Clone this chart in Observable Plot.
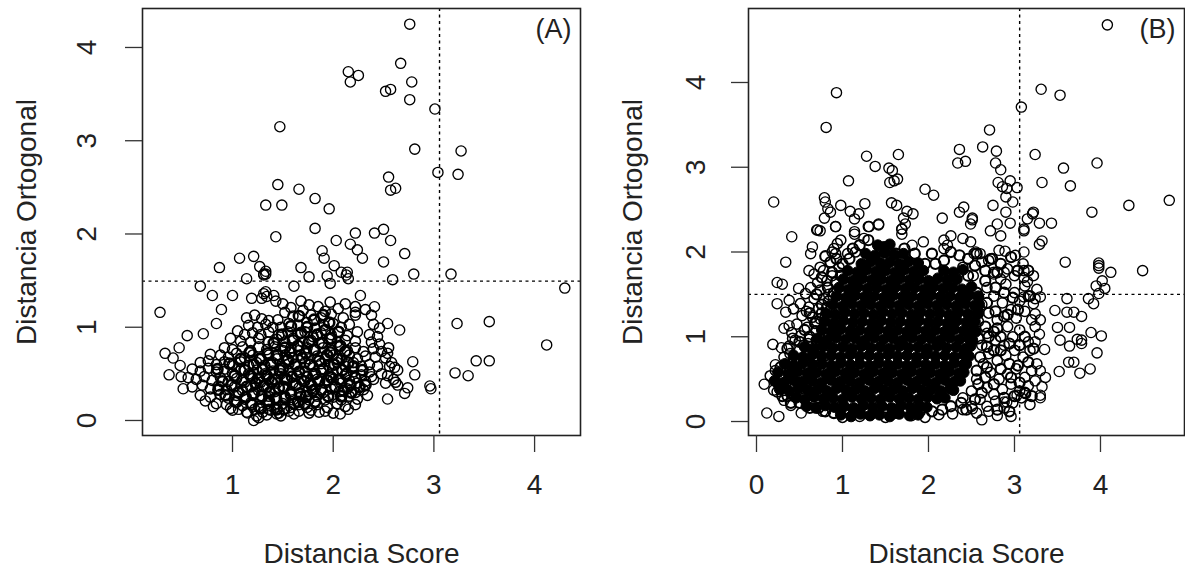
<!DOCTYPE html>
<html><head><meta charset="utf-8">
<script src="https://cdn.jsdelivr.net/npm/d3@7"></script>
<script src="https://cdn.jsdelivr.net/npm/@observablehq/plot@0.6"></script>
<style>
html,body{margin:0;padding:0;background:#fff;overflow:hidden}
#w{position:relative;width:1185px;height:571px}
#w>div,#w>svg{position:absolute;top:0}
svg{font-family:"Liberation Sans",Arial,sans-serif;background:#fff}
</style></head><body><div id="w"></div>
<script>
// Flat lists: score*100, orthogonal*100
const ringsAOuter=[276,425,267,383,215,374,225,370,217,363,278,363,257,355,252,353,276,344,301,334,147,315,281,291,327,289,304,266,324,264,255,261,262,249,257,247,145,253,166,248,182,238,196,227,133,231,149,231,182,206,143,197,222,201,241,201,250,205,203,193,257,193,217,189,224,183,189,182,229,174,191,174,271,179,250,170,107,174,121,176,87,164,127,165,133,160,131,157,131,156,133,157,168,164,176,154,201,166,194,155,208,159,214,159,213,156,259,151,280,157,317,157,114,152,68,144,80,134,100,134,161,144,197,147,215,152,430,142,227,134,119,131,131,136,134,133,129,131,141,134,143,128,133,138,28,116,89,119,241,122,222,116,84,104,254,104,266,97,323,104,355,106,412,81,55,91,71,93,47,78,33,72,41,67,48,59,37,49,49,47,51,34,279,63,281,49,261,57,342,64,355,64,321,51,334,48,296,37,297,34,274,35,271,29,254,23,264,38,238,47,207,7,215,12,161,7,121,0,115,8,81,15,73,21,106,12,144,7];
const ringsACluster=[150,125,158,121,168,128,176,124,185,122,192,117,197,127,205,120,212,125,222,122,232,119,238,113,152,116,160,112,170,118,178,113,188,110,198,114,210,110,222,113,114,110,122,113,129,109,136,107,116,102,125,100,133,103,145,108,140,100,148,100,156,104,165,102,174,105,182,99,191,102,200,104,208,100,216,103,240,103,246,99,105,96,112,92,120,94,128,92,136,95,146,92,155,95,165,92,172,95,180,90,188,94,198,92,206,95,214,91,224,95,236,92,244,90,98,88,108,85,118,84,126,88,136,84,144,87,152,84,160,88,170,84,178,86,186,83,196,87,204,84,212,86,222,85,238,84,246,82,255,78,92,78,100,76,110,79,118,75,126,79,134,76,142,79,150,75,158,78,166,75,174,78,182,75,190,78,198,75,206,79,214,75,222,78,230,74,240,77,248,74,254,72,78,71,88,70,96,68,104,72,112,67,120,70,128,67,136,70,144,66,152,70,160,67,168,70,176,66,184,69,192,66,200,70,208,66,216,70,224,66,232,69,242,68,252,67,258,62,68,62,76,64,84,60,92,63,100,60,108,63,116,59,124,62,132,59,140,62,148,58,156,61,164,58,172,62,180,58,188,61,196,58,204,62,212,58,220,62,228,58,236,60,244,58,256,58,264,54,60,55,68,53,76,56,84,52,92,55,100,51,108,54,116,50,124,54,132,50,140,53,148,50,156,53,164,49,172,53,180,49,188,53,196,49,204,53,212,49,220,52,228,49,236,52,248,50,254,48,260,44,56,46,64,44,72,47,80,43,88,46,96,42,104,45,112,41,120,45,128,41,136,44,144,40,152,44,160,40,168,44,176,40,184,44,192,40,200,44,208,40,216,43,224,40,232,42,240,44,252,40,262,41,60,36,70,38,78,34,86,37,94,33,102,36,110,32,118,36,126,32,134,35,142,31,150,35,158,31,166,35,174,31,182,34,190,30,198,34,206,31,214,34,222,30,230,33,68,27,78,25,88,28,96,24,104,27,112,23,120,27,128,23,136,26,144,22,152,26,160,22,168,26,176,22,184,26,192,22,200,25,208,22,216,26,224,23,234,27,84,18,94,17,102,20,110,16,118,19,126,15,134,18,142,14,150,18,158,14,166,17,174,14,184,17,194,14,204,18,212,15,222,17,100,11,114,9,122,12,130,9,138,11,146,8,156,10,166,10,176,8,186,9,200,8,98,13,124,5,134,6,148,5,178,11,192,10,126,3,136,12];
const ringsACore=[85,55,90,42,86,33,93,27,97,61,102,48,99,38,106,30,104,20,108,66,112,54,110,43,114,36,113,25,117,73,121,60,118,48,123,40,121,29,119,17,127,66,130,55,126,45,131,37,129,26,128,13,135,72,138,60,134,48,139,41,137,30,136,21,141,83,144,70,147,54,142,44,146,35,143,24,144,12,149,92,152,78,155,65,150,56,154,44,151,36,152,24,151,12,158,101,160,86,157,73,162,60,159,47,163,38,158,28,161,18,166,112,168,94,165,80,169,67,166,52,171,42,167,29,165,20,174,100,176,84,173,72,177,60,174,47,178,38,173,26,172,18,181,108,184,92,181,76,186,64,182,50,186,42,180,32,182,20,190,113,192,97,189,83,194,70,190,55,194,43,188,33,196,105,198,88,197,73,201,60,198,46,202,36,195,26,205,95,207,80,204,66,209,54,206,44,210,32,212,74,215,62,213,50,217,38,208,26,220,58,222,46,226,36,218,30,229,54,232,38];
const ringsBOuter=[408,468,93,388,81,347,331,392,353,385,308,371,271,344,263,324,236,321,279,319,128,313,165,315,324,315,138,301,154,299,158,296,234,305,243,307,278,305,284,297,357,299,396,305,107,284,155,282,164,286,160,284,332,282,365,278,281,282,295,284,286,277,303,276,291,275,196,274,206,267,290,265,20,259,79,264,80,259,480,261,98,255,126,257,157,258,163,255,241,253,275,255,298,259,433,255,390,247,83,251,86,247,236,247,109,248,119,245,175,248,182,245,171,240,290,247,322,247,321,245,315,239,216,240,251,240,251,238,249,233,79,240,114,239,92,230,130,230,142,233,71,226,114,224,169,227,280,233,295,234,329,234,343,234,311,227,272,225,41,218,70,226,74,225,92,230,114,221,125,216,131,230,142,232,65,206,63,198,34,188,61,178,24,164,30,162,49,157,24,139,38,143,34,129,32,110,38,113,19,91,29,87,38,89,22,67,9,44,12,10,26,6,52,10,77,12,32,25,40,19,359,188,398,187,398,184,398,181,412,176,449,178,402,166,395,160,405,157,398,151,386,145,392,139,361,145,330,147,324,145,322,139,347,131,361,129,369,129,378,124,350,111,364,111,389,105,401,101,353,96,364,89,373,97,378,96,378,92,396,81,363,70,369,70,388,62,376,57,352,59,335,85,329,103,324,94,324,127,330,60,336,52,332,41,330,31,330,28,324,48,313,33,296,6,262,2,280,7,270,12,251,15,288,23,291,23,303,31,311,147,311,200,329,209,332,213,301,196,282,202,289,201,272,192,284,219,311,225,260,198,253,198,255,200,226,219,240,216,249,212,194,212,218,214,222,208,218,204,181,208,173,233,169,227,169,221,288,176,303,178,311,170,315,165,276,174,311,178];
const ringsBRim=[94,210,88,200,98,214,106,198,115,200,92,198,90,204,74,182,67,174,78,178,71,164,82,166,63,158,74,155,57,151,67,145,78,145,51,139,61,135,72,133,43,133,53,125,65,123,74,121,47,115,59,111,69,107,41,105,51,101,61,97,45,96,55,90,39,80,32,76,22,60,16,54,20,37,24,35,42,98,50,84,60,92,68,84,58,130,70,118,80,124,84,150,88,172,96,182,262,188,270,190,276,176,284,168,292,180,300,172,310,186,290,162,300,152,312,160,322,172,268,158,276,148,286,140,296,132,306,142,316,148,326,156,270,128,280,120,292,112,302,122,312,130,320,120,268,104,278,96,288,90,298,100,306,108,316,94,324,112,330,120,270,80,280,72,290,78,300,84,310,76,318,84,326,68,272,58,282,50,292,56,302,62,312,52,320,60,268,40,276,32,286,38,296,44,306,36,316,42,260,26,268,18,278,24,288,16,298,22,308,28,318,20,250,18,256,10,240,14,228,9,212,8,196,5,180,7,150,5,120,6,100,5,240,28,250,36,256,50,264,68,262,90,258,118,262,138,258,148,252,172,240,182];
const ringsBEdge=[80,195,86,188,93,192,100,186,108,192,76,170,83,158,88,176,92,164,98,172,70,150,76,138,84,142,90,152,62,128,68,116,76,128,82,134,88,118,56,108,62,100,70,96,78,110,84,100,50,94,58,78,66,76,74,88,80,78,36,86,44,72,52,70,60,66,28,64,36,60,42,58,48,46,34,46,26,44,30,30,36,30,44,30,40,22,50,22,56,28,62,16,72,16,80,12,90,10,102,14,114,12,130,12,148,12,160,10,176,14,190,12,204,12,216,14,226,18,238,22,244,14,254,26,262,34,258,44,266,52,256,60,268,64,260,76,268,88,276,84,258,98,266,112,276,106,284,100,258,128,268,140,278,130,288,124,256,152,266,166,278,158,288,152,298,146,246,172,254,184,266,178,274,192,284,186,296,194,304,178,316,178,284,84,294,92,306,90,294,68,304,66,316,70,284,62,276,44,296,52,306,46,288,28,300,30,312,34,280,14,294,12,320,30,270,100,280,110,292,126,304,132,218,190,226,200,236,196,246,192,256,198,204,198,196,186,208,186,150,205,162,198,172,204,184,198,120,208,130,214,112,204,280,176,318,148,312,100,322,86];
const coreB=[98,8,110,6,121,9,132,7,143,8,155,6,166,9,178,7,188,8,58,18,69,16,80,19,91,17,102,18,113,16,124,19,135,17,146,18,157,16,168,19,179,17,190,18,198,17,46,28,56,26,67,29,78,27,89,28,100,26,111,29,122,27,133,28,144,26,155,29,166,27,177,28,188,26,199,29,210,27,219,28,27,38,38,36,49,39,60,37,71,38,82,36,93,39,104,37,115,38,126,36,137,39,148,37,159,38,170,36,181,39,192,37,203,38,214,36,225,39,229,37,21,48,32,46,43,49,54,47,65,48,76,46,87,49,98,47,109,48,120,46,131,49,142,47,153,48,164,46,175,49,186,47,197,48,208,46,219,49,230,47,237,48,25,58,37,56,48,59,59,57,70,58,81,56,92,59,103,57,114,58,125,56,136,59,147,57,158,58,169,56,180,59,191,57,202,58,213,56,224,59,235,57,241,58,33,68,43,66,54,69,65,67,76,68,87,66,98,69,109,67,120,68,131,66,142,69,153,67,164,68,175,66,186,69,197,67,208,68,219,66,230,69,241,67,244,68,43,78,54,76,65,79,76,77,87,78,98,76,109,79,120,77,131,78,142,76,153,79,164,77,175,78,186,76,197,79,208,77,219,78,230,76,241,79,247,77,56,88,67,86,78,89,89,87,100,88,111,86,122,89,133,87,144,88,155,86,166,89,177,87,188,88,199,86,210,89,221,87,232,88,243,86,249,89,71,98,82,96,93,99,104,97,115,98,126,96,137,99,148,97,159,98,170,96,181,99,192,97,203,98,214,96,225,99,236,97,247,98,251,96,76,108,87,106,98,109,109,107,120,108,131,106,142,109,153,107,164,108,175,106,186,109,197,107,208,108,219,106,230,109,241,107,252,108,255,106,79,118,90,116,101,119,112,117,123,118,134,116,145,119,156,117,167,118,178,116,189,119,200,117,211,118,222,116,233,119,244,117,254,118,81,128,92,126,103,129,114,127,125,128,136,126,147,129,158,127,169,128,180,126,191,129,202,127,213,128,224,126,235,129,246,127,257,128,89,138,100,136,111,139,122,137,133,138,144,136,155,139,166,137,177,138,188,136,199,139,210,137,221,138,232,136,243,139,254,137,259,138,93,148,104,146,115,149,126,147,137,148,148,146,159,149,170,147,181,148,192,146,203,149,214,147,225,148,236,146,247,149,258,147,96,158,107,156,118,159,129,157,140,158,151,156,162,159,173,157,184,158,195,156,206,159,217,157,228,158,239,156,250,159,101,168,112,166,123,169,134,167,145,168,156,166,167,169,178,167,189,168,200,166,211,169,222,167,233,168,106,178,117,176,128,179,139,177,150,178,161,176,172,179,183,177,194,178,218,178,229,176,240,179,122,186,133,189,144,187,155,188,166,186,177,189,188,187,127,198,138,196,149,199,160,197,171,198,141,208,148,206,155,209];
const scoreTicksA=[1,2,3,4], scoreTicksB=[0,1,2,3,4], ortTicks=[0,1,2,3,4];
const cutA=[3.056,1.494], cutB=[3.06,1.5];
const pairs=a=>d3.range(0,a.length-1,2).map(i=>({x:a[i]/100,y:a[i+1]/100}));
function panel(o){
  return Plot.plot({
    width:o.width,height:571,marginLeft:o.ml,marginRight:o.mr,marginTop:8,marginBottom:136,
    x:{domain:o.xd,axis:null},y:{domain:o.yd,axis:null},
    marks:[
      Plot.dot(pairs(o.core),{x:"x",y:"y",r:5.4,fill:"black",stroke:"black",strokeWidth:1}),
      ...o.rings.map(([a,sw])=>Plot.dot(pairs(a),{x:"x",y:"y",r:5.1,stroke:"black",strokeWidth:sw,fill:"none"})),
      Plot.ruleX([o.cut[0]],{stroke:"black",strokeWidth:1.4,strokeDasharray:"3,3.5"}),
      Plot.ruleY([o.cut[1]],{stroke:"black",strokeWidth:1.4,strokeDasharray:"3,3.5"}),
      Plot.frame({stroke:"#222",strokeWidth:1.6}),
      Plot.axisX(o.xt,{anchor:"bottom",tickSize:17,tickPadding:22,fontSize:28,stroke:"#333",strokeWidth:1.3,color:"#222",tickFormat:d=>d,label:"Distancia Score",labelAnchor:"center",labelArrow:"none",labelOffset:127}),
      Plot.axisY(ortTicks,{anchor:"left",tickSize:17,tickPadding:o.tp,tickRotate:-90,fontSize:28,stroke:"#333",strokeWidth:1.3,color:"#222",tickFormat:d=>d,label:"Distancia Ortogonal",labelAnchor:"center",labelArrow:"none",labelOffset:o.lo}),
      Plot.text([o.tag],{frameAnchor:"top-right",dx:-9,dy:10,fontSize:27,fill:"#222",lineAnchor:"top"})
    ]});
}
const wrap=document.getElementById("w");
const a=panel({width:592,ml:142,mr:12,xd:[0.106,4.456],yd:[-0.161,4.418],core:[],rings:[[ringsAOuter,1.35],[ringsACluster,1.5],[ringsACore,2.6]],cut:cutA,xt:scoreTicksA,tp:30,lo:126,tag:"(A)"});
a.style.left="0px";wrap.appendChild(a);
const b=panel({width:593,ml:156,mr:1,xd:[-0.093,4.977],yd:[-0.165,4.873],core:coreB,rings:[[ringsBOuter,1.35],[ringsBRim,1.5],[ringsBEdge,2.1]],cut:cutB,xt:scoreTicksB,tp:27,lo:126,tag:"(B)"});
b.style.left="592px";wrap.appendChild(b);
</script></body></html>
